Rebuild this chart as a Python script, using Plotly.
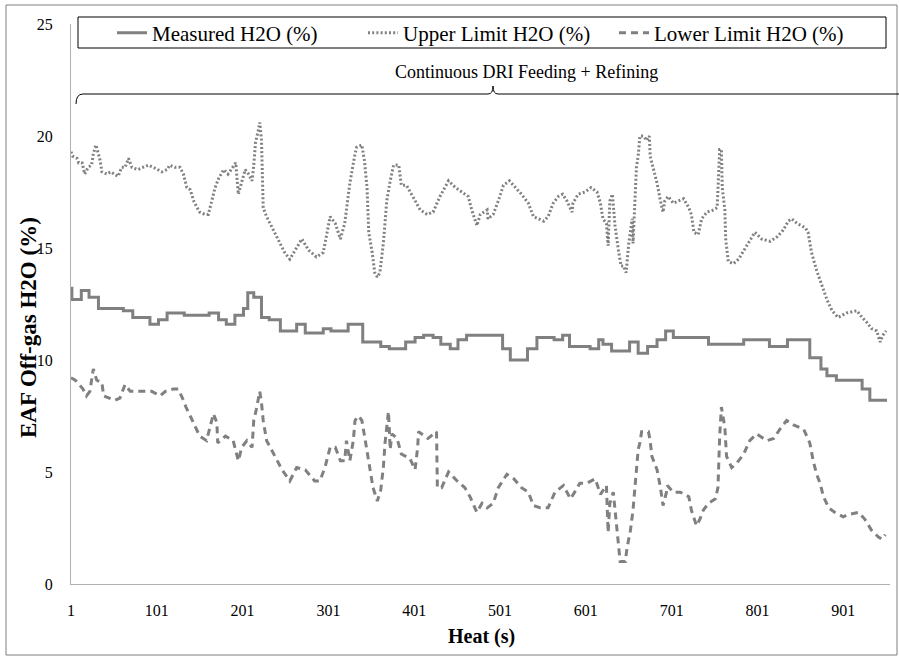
import plotly.graph_objects as go

# ---- data -------------------------------------------------------------
# Measured off-gas H2O (step signal: value holds from each start time)
measured_t = [1, 2, 13, 22, 33, 62, 73, 93, 103, 113, 133, 162, 173, 182, 192,
              202, 207, 214, 223, 232, 245, 264, 274, 295, 304, 324, 341, 362,
              372, 391, 402, 412, 423, 432, 443, 452, 462, 504, 513, 533, 544,
              564, 574, 582, 606, 616, 621, 631, 652, 662, 673, 684, 694, 703,
              744, 785, 815, 836, 862, 875, 882, 893, 923, 932, 952]
measured_h2o = [13.2, 12.7, 13.1, 12.8, 12.3, 12.2, 11.9, 11.6, 11.8, 12.1, 12.0,
                12.1, 11.8, 11.6, 12.0, 12.3, 13.0, 12.8, 11.9, 11.8, 11.3, 11.6,
                11.2, 11.4, 11.3, 11.6, 10.8, 10.6, 10.5, 10.8, 11.0, 11.1, 11.0,
                10.7, 10.5, 10.9, 11.1, 10.5, 10.0, 10.5, 11.0, 10.9, 11.1, 10.6,
                10.5, 10.9, 10.7, 10.4, 10.8, 10.3, 10.6, 10.9, 11.3, 11.0, 10.7,
                10.9, 10.6, 10.9, 10.1, 9.6, 9.3, 9.1, 8.7, 8.2, 8.2]

upper_t = [1, 3, 8, 10, 14, 17, 21, 25, 27, 30, 33, 35, 37, 43, 47, 52, 56, 60,
           64, 68, 72, 79, 85, 91, 97, 103, 107, 113, 116, 122, 128, 132, 136,
           140, 144, 148, 151, 157, 161, 165, 169, 173, 179, 184, 190, 193, 196,
           200, 204, 208, 212, 214, 216, 219, 221, 223, 224, 225, 229, 237, 245,
           250, 256, 262, 270, 278, 287, 295, 299, 303, 309, 315, 320, 326, 332,
           334, 340, 343, 346, 348, 352, 355, 358, 361, 365, 369, 373, 377, 383,
           386, 392, 398, 402, 408, 416, 423, 431, 441, 449, 456, 464, 468, 474,
           478, 486, 487, 493, 499, 505, 512, 519, 526, 534, 540, 546, 552, 557,
           563, 569, 574, 579, 585, 586, 592, 600, 607, 614, 618, 621, 625, 627,
           629, 632, 635, 639, 642, 645, 648, 651, 655, 656, 658, 660, 662, 664,
           668, 672, 675, 676, 680, 684, 688, 691, 693, 697, 703, 709, 715, 721,
           724, 727, 732, 736, 742, 750, 754, 755, 757, 759, 760, 763, 764, 767,
           773, 779, 787, 794, 798, 806, 816, 824, 831, 837, 841, 847, 857, 860,
           864, 870, 876, 882, 888, 895, 905, 917, 923, 928, 934, 940, 944, 947,
           951]
upper_h2o = [19.3, 19.1, 19.0, 18.8, 18.8, 18.3, 18.6, 18.7, 19.2, 19.6, 19.2,
             18.9, 18.4, 18.3, 18.4, 18.3, 18.2, 18.6, 18.6, 19.0, 18.6, 18.5,
             18.6, 18.7, 18.6, 18.5, 18.4, 18.5, 18.7, 18.6, 18.6, 18.3, 17.7,
             17.6, 17.1, 16.8, 16.6, 16.5, 16.5, 17.1, 17.7, 18.1, 18.5, 18.3,
             18.6, 18.8, 17.4, 17.9, 18.5, 18.3, 18.0, 18.7, 19.7, 20.2, 20.6,
             19.8, 18.6, 16.8, 16.4, 15.8, 15.2, 14.8, 14.5, 14.9, 15.4, 14.9,
             14.6, 14.8, 15.6, 16.4, 16.1, 15.4, 16.1, 17.9, 19.2, 19.5, 19.6,
             18.9, 17.7, 15.7, 14.8, 13.9, 13.7, 13.9, 15.2, 17.1, 18.0, 18.7,
             18.7, 17.8, 17.8, 17.4, 17.1, 16.7, 16.5, 16.6, 17.3, 18.0, 17.7,
             17.5, 17.3, 16.7, 16.0, 16.5, 16.7, 16.3, 16.5, 17.1, 17.8, 18.0,
             17.7, 17.4, 17.0, 16.4, 16.3, 16.2, 16.4, 17.0, 17.3, 17.4, 17.1,
             16.6, 17.0, 17.4, 17.5, 17.7, 17.5, 17.0, 16.3, 16.1, 15.1, 17.1,
             17.4, 16.0, 14.9, 14.2, 14.2, 13.9, 15.2, 16.3, 15.2, 17.1, 18.6,
             19.1, 20.0, 20.0, 19.8, 20.0, 19.1, 18.5, 17.9, 17.1, 16.6, 17.1,
             17.3, 17.0, 17.1, 17.2, 16.8, 16.5, 15.7, 15.6, 16.3, 16.6, 16.7,
             16.8, 17.6, 19.4, 19.4, 17.7, 16.7, 15.4, 14.4, 14.3, 14.5, 15.0,
             15.5, 15.7, 15.4, 15.3, 15.5, 15.8, 16.2, 16.3, 16.1, 15.9, 15.7,
             14.8, 14.0, 13.3, 12.7, 12.2, 11.9, 12.1, 12.2, 11.9, 11.7, 11.4,
             11.3, 10.8, 11.1, 11.3]

lower_t = [1, 6, 15, 19, 23, 27, 31, 37, 39, 45, 52, 58, 64, 70, 85, 95, 105,
           111, 120, 126, 132, 135, 140, 146, 151, 159, 167, 171, 172, 175, 181,
           190, 196, 200, 206, 212, 214, 217, 221, 223, 225, 229, 237, 247, 256,
           264, 274, 285, 291, 297, 303, 309, 315, 320, 322, 326, 330, 332, 336,
           340, 344, 348, 353, 358, 362, 365, 367, 371, 373, 375, 381, 386, 396,
           402, 405, 406, 417, 427, 428, 433, 441, 451, 460, 466, 474, 480, 486,
           493, 499, 509, 517, 526, 534, 540, 548, 557, 565, 575, 583, 588, 594,
           602, 612, 618, 625, 627, 629, 633, 637, 641, 647, 649, 653, 656, 658,
           660, 662, 664, 666, 670, 674, 676, 678, 684, 688, 691, 695, 696, 703,
           711, 721, 724, 730, 734, 738, 744, 752, 755, 756, 757, 759, 763, 765,
           771, 777, 785, 792, 800, 812, 820, 827, 835, 843, 855, 862, 866, 870,
           874, 878, 884, 891, 901, 907, 919, 926, 934, 942, 946, 950]
lower_h2o = [9.2, 9.1, 8.7, 8.4, 8.6, 9.6, 9.1, 9.0, 8.4, 8.3, 8.2, 8.3, 8.9, 8.6,
             8.6, 8.6, 8.4, 8.6, 8.7, 8.7, 8.2, 7.9, 7.5, 7.0, 6.6, 6.4, 7.6, 7.2,
             6.3, 6.4, 6.6, 6.4, 5.5, 6.1, 6.4, 6.1, 7.3, 7.8, 8.6, 8.1, 7.3, 6.4,
             5.8, 5.1, 4.6, 5.2, 5.1, 4.6, 4.6, 5.2, 6.1, 6.1, 5.5, 5.5, 6.4, 5.5,
             6.4, 7.3, 7.5, 7.3, 6.4, 5.5, 4.3, 3.7, 4.2, 5.2, 6.3, 7.7, 6.0, 6.7,
             6.5, 5.8, 5.6, 5.1, 6.1, 6.8, 6.5, 6.8, 4.3, 4.3, 5.0, 4.6, 4.3, 3.9,
             3.2, 3.6, 3.4, 3.6, 4.3, 4.9, 4.7, 4.3, 4.1, 3.5, 3.4, 3.4, 4.1, 4.4,
             3.8, 4.1, 4.5, 4.5, 4.7, 4.0, 4.4, 2.3, 3.6, 4.1, 2.4, 1.0, 1.0, 1.6,
             2.4, 3.3, 4.2, 5.2, 6.0, 6.3, 6.8, 6.8, 6.8, 6.4, 5.7, 5.1, 4.3, 3.5,
             4.1, 4.4, 4.1, 4.1, 3.9, 3.3, 2.6, 2.9, 3.3, 3.6, 3.8, 4.3, 5.5, 6.6,
             7.9, 7.0, 5.7, 5.2, 5.4, 5.8, 6.4, 6.7, 6.4, 6.5, 6.9, 7.3, 7.1, 6.9,
             6.3, 5.5, 4.9, 4.5, 3.9, 3.4, 3.2, 3.0, 3.1, 3.2, 2.9, 2.4, 2.1, 2.0,
             2.2]

x_ticks = [1, 101, 201, 301, 401, 501, 601, 701, 801, 901]
y_ticks = [0, 5, 10, 15, 20, 25]

series_names = ["Measured H2O (%)", "Upper Limit H2O (%)", "Lower Limit H2O (%)"]
phase_label = "Continuous DRI Feeding + Refining"

# ---- page geometry ----------------------------------------------------
W, H = 899, 657
ML, MR, MT, MB = 71, 9, 24, 73
PW, PH = W - ML - MR, H - MT - MB


def px(x):
    """page pixel column -> paper x"""
    return (x - ML) / PW


def py(y):
    """page pixel row -> paper y"""
    return (H - MB - y) / PH


SERIF = "Liberation Serif, Times New Roman, serif"
GREY = "#808080"

fig = go.Figure()
fig.add_trace(go.Scatter(x=measured_t, y=measured_h2o, mode="lines",
                         name=series_names[0], line_shape="hv",
                         line=dict(color=GREY, width=3)))
fig.add_trace(go.Scatter(x=upper_t, y=upper_h2o, mode="lines",
                         name=series_names[1],
                         line=dict(color=GREY, width=3, dash="2px,2.2px")))
fig.add_trace(go.Scatter(x=lower_t, y=lower_h2o, mode="lines",
                         name=series_names[2],
                         line=dict(color=GREY, width=3, dash="7px,5px")))

axis_common = dict(showgrid=False, zeroline=False, showline=True,
                   linecolor="#b0b0b0", linewidth=1, ticks="",
                   tickfont=dict(family=SERIF, size=16, color="#000000"))
fig.update_xaxes(range=[1, 955.5], tickmode="array", tickvals=x_ticks,
                 ticklabelstandoff=12, **axis_common)
fig.update_yaxes(range=[0, 25], tickmode="array", tickvals=y_ticks,
                 ticklabelstandoff=14, **axis_common)

# curly bracket spanning the feeding/refining phase
bracket = (f"M {px(76)},{py(104)} Q {px(76)},{py(94)} {px(83)},{py(94)} "
           f"L {px(488)},{py(94)} Q {px(493)},{py(94)} {px(493)},{py(86)} "
           f"Q {px(493)},{py(94)} {px(498)},{py(94)} L {px(899)},{py(94)}")

fig.update_layout(
    width=W, height=H,
    margin=dict(l=ML, r=MR, t=MT, b=MB),
    paper_bgcolor="white", plot_bgcolor="white",
    font=dict(family=SERIF, color="#000000"),
    legend=dict(orientation="h", x=px(112), y=py(33), xanchor="left",
                yanchor="middle", bgcolor="rgba(0,0,0,0)", borderwidth=0,
                entrywidth=206, entrywidthmode="pixels",
                font=dict(family=SERIF, size=21, color="#000000")),
    shapes=[
        dict(type="rect", xref="paper", yref="paper",
             x0=px(6), x1=px(897), y0=py(655), y1=py(5),
             line=dict(color="#7f7f7f", width=1)),
        dict(type="rect", xref="paper", yref="paper",
             x0=px(78), x1=px(886), y0=py(48), y1=py(17),
             line=dict(color="#000000", width=1)),
        dict(type="path", xref="paper", yref="paper", path=bracket,
             line=dict(color="#000000", width=1)),
    ],
    annotations=[
        dict(text=phase_label, xref="paper", yref="paper",
             x=px(526), y=py(72), xanchor="center", yanchor="middle",
             showarrow=False,
             font=dict(family=SERIF, size=18, color="#000000")),
        dict(text="<b>Heat (s)</b>", xref="paper", yref="paper",
             x=px(481), y=py(636), xanchor="center", yanchor="middle",
             showarrow=False,
             font=dict(family=SERIF, size=20, color="#000000")),
        dict(text="<b>EAF Off-gas H2O (%)</b>", xref="paper", yref="paper",
             x=px(28), y=py(328), xanchor="center", yanchor="middle",
             showarrow=False, textangle=-90,
             font=dict(family=SERIF, size=23, color="#000000")),
    ],
)

fig.write_html("out.html")
